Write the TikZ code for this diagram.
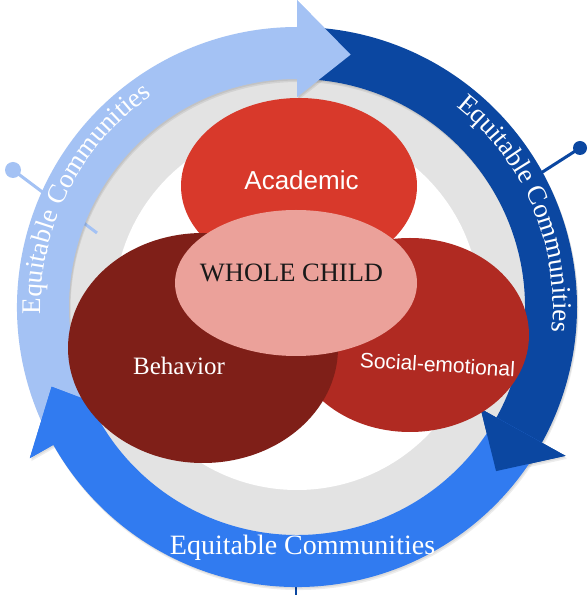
\documentclass[tikz,border=0pt]{standalone}
\usepackage{fontspec}
\setmainfont{Liberation Serif}
\newfontfamily\sansf{Liberation Sans}
\usetikzlibrary{shapes.geometric,decorations.text}
\definecolor{lightb}{HTML}{A4C2F4}
\definecolor{darkb}{HTML}{0B47A1}
\definecolor{medb}{HTML}{317BF0}
\definecolor{ringgray}{HTML}{E3E3E3}
\definecolor{acad}{HTML}{D8392B}
\definecolor{behav}{HTML}{7F1F18}
\definecolor{social}{HTML}{B02A22}
\definecolor{whole}{HTML}{EBA19A}
% whole arrow: style, tail angle, head-base angle, band end angle, tip angle
\newcommand\ringarrow[5]{\fill[#1] (#2:280) arc[start angle=#2, end angle=#4, radius=280] -- (#4:228) arc[start angle=#4, end angle=#2, radius=228] -- cycle
   (#3:307) -- (#5:258) -- (#3:210) -- cycle;}
% head only: style, base angle, tip angle
\newcommand\ringhead[3]{\fill[#1] (#2:307) -- (#3:258) -- (#2:210) -- cycle;}
\tikzset{
  blob/.style={ellipse, draw=none, inner sep=0pt, outer sep=0pt},
  pinline/.style={line width=3pt},
  serifw/.style={font=\fontsize{#1}{#1}\selectfont, text=white, inner sep=0pt},
  sansw/.style={font=\sansf\fontsize{#1}{#1}\selectfont, text=white, inner sep=0pt},
  shade1/.style={black, opacity=0.07, shift={(1.5,-3)}},
  shade2/.style={black, opacity=0.07, shift={(1,-1.5)}},
}
\begin{document}
\begin{tikzpicture}[x=1pt,y=1pt]
\useasboundingbox (0,0) rectangle (587,595);
\fill[white] (0,0) rectangle (587,595);
\begin{scope}[shift={(297,288)}]
  \coordinate (C) at (0,0);
  \fill[ringgray] (C) circle[radius=229];
  \fill[white] (C) circle[radius=183];
  % pins
  \coordinate (lp1) at (-284,137);
  \coordinate (lp2) at (-200,74);
  \draw[lightb, pinline] (lp1) -- (lp2);
  \fill[lightb] (lp1) circle[radius=8];
  \coordinate (dp1) at (283,159);
  \coordinate (dp2) at (233,127);
  \draw[darkb, pinline] (dp1) -- (dp2);
  \fill[darkb] (dp1) circle[radius=7];
  \coordinate (bp1) at (-1,-290);
  \coordinate (bp2) at (-1,-270);
  \draw[darkb, line width=2pt] (bp1) -- (bp2);
  % soft shadows
  \foreach \s in {shade1,shade2}{
    \ringarrow{\s}{209.5}{90}{89}{78}
    \ringarrow{\s}{90}{-29}{-30}{-39.5}
    \ringarrow{\s}{-29}{-150.5}{-151.5}{-162}
  }
  % bands with heads
  \ringarrow{lightb}{209.5}{90}{89}{78}
  \ringarrow{darkb}{90}{-29}{-30}{-39.5}
  \ringarrow{medb}{-29}{-150.5}{-151.5}{-162}
  % heads again on top of the neighbouring tails
  \ringhead{lightb}{90}{78}
  \ringhead{darkb}{-29}{-39.5}
  \ringhead{medb}{209.5}{198}
  % arc texts
  \path[decorate, decoration={text along path, text align=center,
     text={|\fontsize{27}{27}\selectfont\color{white}|Equitable Communities}}]
     (198:256) arc[start angle=198, end angle=108, radius=256];
  \path[decorate, decoration={text along path, text align=center,
     text={|\fontsize{27}{27}\selectfont\color{white}|Equitable Communities}}]
     (68:256) arc[start angle=68, end angle=-22, radius=256];
\end{scope}
\node[serifw=28, anchor=base] (bottomtext) at (302.5,40) {Equitable Communities};
% ellipses
\node[blob, fill=acad, minimum width=236pt, minimum height=176pt] (academic) at (299,409) {};
\node[blob, fill=social, minimum width=238pt, minimum height=194pt] (socialemo) at (410,260) {};
\node[blob, fill=behav, minimum width=270pt, minimum height=230pt] (behavior) at (203,247) {};
\node[blob, fill=whole, minimum width=242pt, minimum height=146pt] (wholechild) at (296,312) {};
% labels
\node[sansw=26, anchor=base] (acadlabel) at (301.5,405) {Academic};
\node[sansw=21, anchor=base, rotate=-3.6] (sociallabel) at (437,223) {Social-emotional};
\node[serifw=25, anchor=base] (behavlabel) at (179,220) {Behavior};
\node[font=\fontsize{26.5}{26.5}\selectfont, text=black!90, inner sep=0pt, anchor=base] (wholelabel) at (291.5,313) {WHOLE CHILD};
\end{tikzpicture}
\end{document}
